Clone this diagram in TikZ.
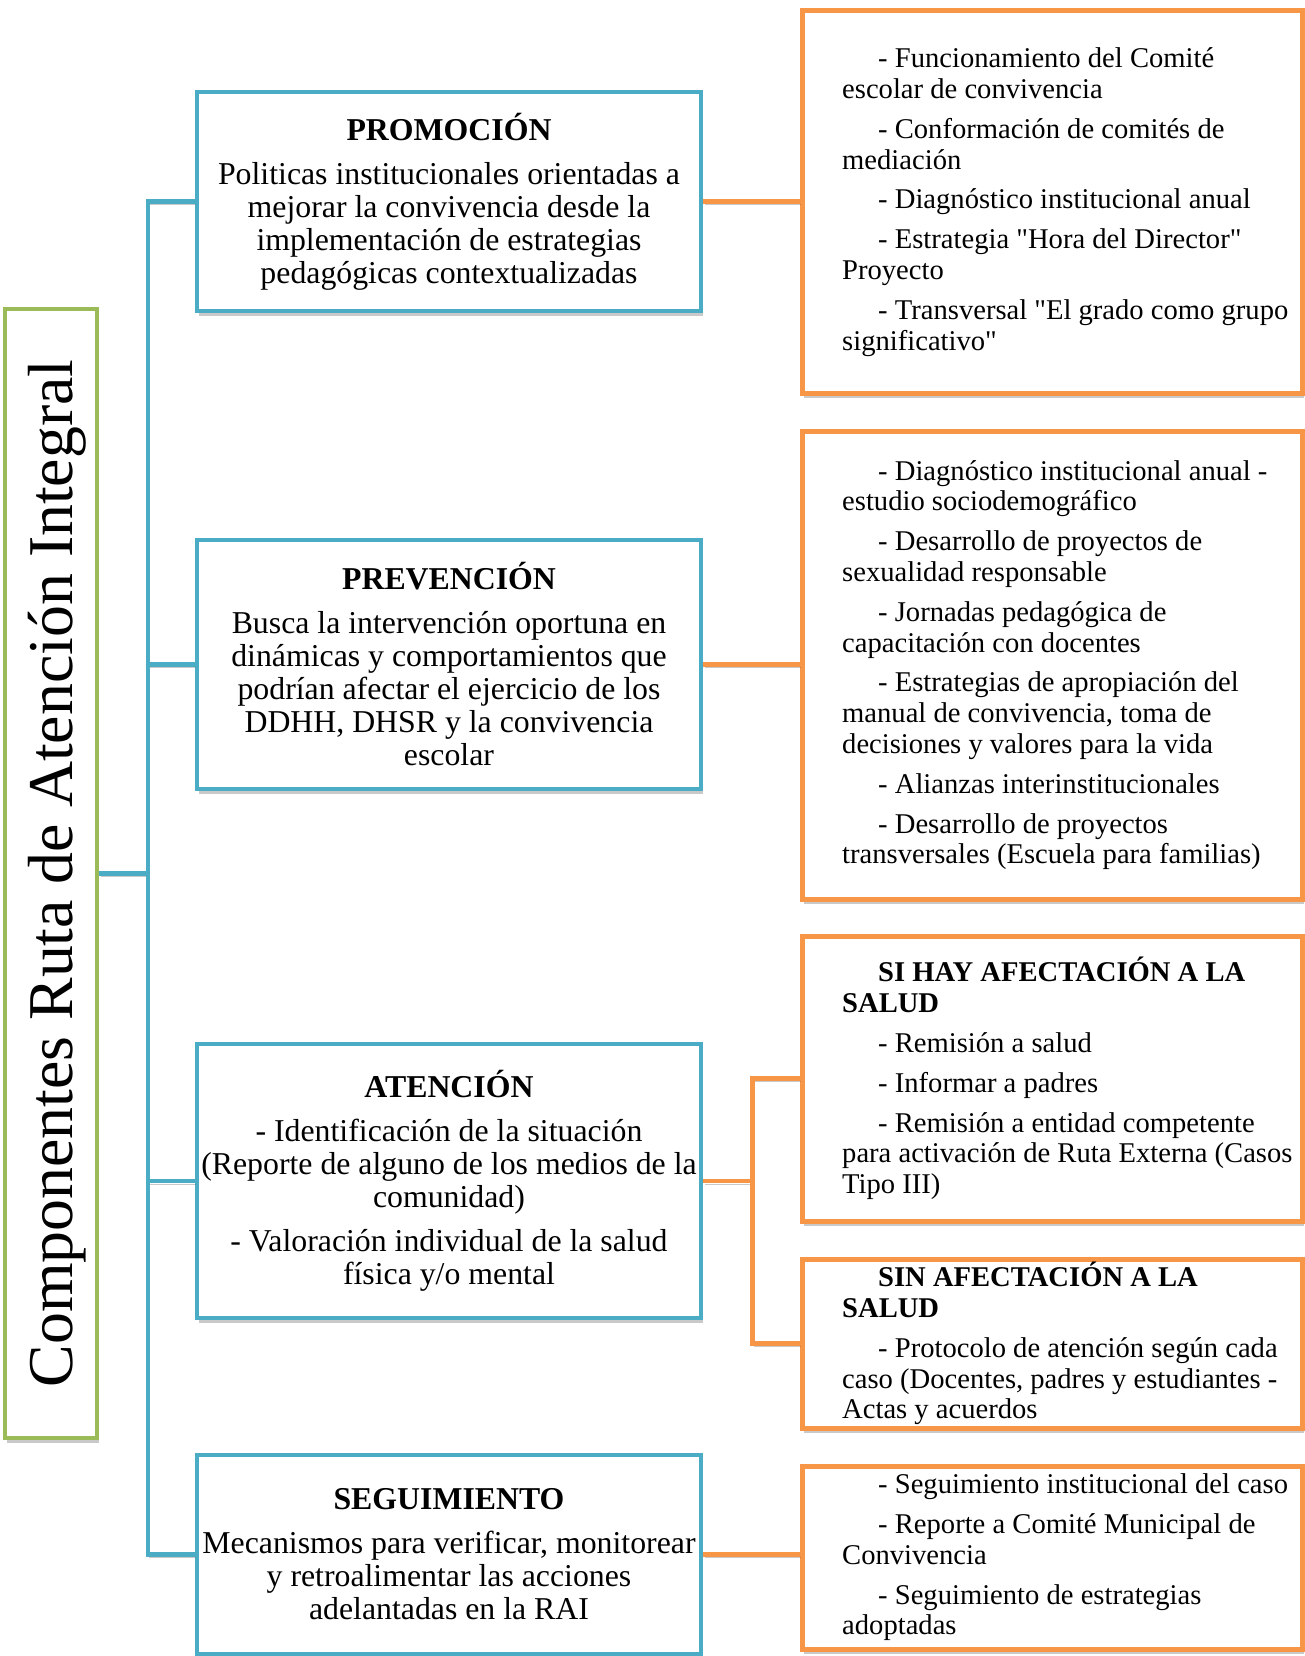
\documentclass[tikz,border=0pt]{standalone}
\usepackage{fontspec}
\setmainfont{Liberation Serif}[Ligatures=TeXOff]
\usetikzlibrary{shadows}
\setlength{\parindent}{0pt}
\definecolor{raiblue}{HTML}{4BACC6}
\definecolor{raiorange}{HTML}{F79646}
\definecolor{raigreen}{HTML}{9BBB59}
\newcommand{\ind}{\hspace*{36pt}}
\tikzset{
  boxshadow/.style={drop shadow={shadow xshift=2pt, shadow yshift=-5pt, fill=black!70, opacity=0.3}},
  bluebox/.style={draw=raiblue, line width=4.5pt, fill=white, boxshadow, minimum width=504pt,
                  inner xsep=0pt, align=center, font=\fontsize{31.8}{33}\selectfont},
  itembox/.style={draw=raiorange, line width=5pt, fill=white, boxshadow, minimum width=500pt},
  itemtext/.style={anchor=west, inner sep=0pt, align=left, font=\fontsize{28.6}{30.8}\selectfont},
  titlebox/.style={draw=raigreen, line width=4.5pt, fill=white, boxshadow, minimum width=92pt,
                   minimum height=1129pt, inner sep=0pt, font=\fontsize{63.8}{64}\selectfont},
  lineshadow/.style={preaction={draw=black!70, opacity=0.3, transform canvas={xshift=1.5pt, yshift=-3pt}}},
  blueline/.style={draw=raiblue, line width=4.5pt, lineshadow},
  orangeline/.style={draw=raiorange, line width=4.5pt, lineshadow}
}
\begin{document}
\begin{tikzpicture}[x=1pt, y=-1pt]
  \useasboundingbox (0,0) rectangle (1304,1656);
  \node [titlebox] (rai) at (51,873.5)
        {\rotatebox{90}{\raisebox{-6pt}[\height][\depth]{Componentes Ruta de Atención Integral}}};
  % blue column
  \node [bluebox, minimum height=219pt] (prom) at (449,201.5) {\textbf{PROMOCIÓN}\\[11pt]
        Politicas institucionales orientadas a\\ mejorar la convivencia desde la\\
        implementación de estrategias\\ pedagógicas contextualizadas};
  \node [bluebox, minimum height=249pt] (prev) at (449,664.5) {\textbf{PREVENCIÓN}\\[11pt]
        Busca la intervención oportuna en\\ dinámicas y comportamientos que\\
        podrían afectar el ejercicio de los\\ DDHH, DHSR y la convivencia\\ escolar};
  \node [bluebox, minimum height=274pt] (aten) at (449,1181) {\textbf{ATENCIÓN}\\[11pt]
        - Identificación de la situación\\ (Reporte de alguno de los medios de la\\ comunidad)\\[11pt]
        - Valoración individual de la salud\\ física y/o mental};
  \node [bluebox, minimum height=199pt] (segu) at (449,1554.5) {\textbf{SEGUIMIENTO}\\[11pt]
        Mecanismos para verificar, monitorear\\ y retroalimentar las acciones\\ adelantadas en la RAI};
  % orange column
  \node [itembox, minimum height=382pt] (rp1) at (1052,202)    {};       %promocion
  \node [itembox, minimum height=468pt] (rp2) at (1052,665)    {};       %prevencion
  \node [itembox, minimum height=285pt] (ra1) at (1052,1078.5) {};       %atencion, con afectacion
  \node [itembox, minimum height=169pt] (ra2) at (1052,1343.5) {};       %atencion, sin afectacion
  \node [itembox, minimum height=183pt] (rs1) at (1052,1557.5) {};       %seguimiento
  \node [itemtext] (rp1t) at (842,202) {%
        \ind- Funcionamiento del Comité\\ escolar de convivencia\\[9pt]
        \ind- Conformación de comités de\\ mediación\\[9pt]
        \ind- Diagnóstico institucional anual\\[9pt]
        \ind- Estrategia "Hora del Director"\\ Proyecto\\[9pt]
        \ind- Transversal "El grado como grupo\\ significativo"};
  \node [itemtext] (rp2t) at (842,665) {%
        \ind- Diagnóstico institucional anual -\\ estudio sociodemográfico\\[9pt]
        \ind- Desarrollo de proyectos de\\ sexualidad responsable\\[9pt]
        \ind- Jornadas pedagógica de\\ capacitación con docentes\\[9pt]
        \ind- Estrategias de apropiación del\\ manual de convivencia, toma de\\ decisiones y valores para la vida\\[9pt]
        \ind- Alianzas interinstitucionales\\[9pt]
        \ind- Desarrollo de proyectos\\ transversales (Escuela para familias)};
  \node [itemtext] (ra1t) at (842,1078.5) {%
        \ind\textbf{SI HAY AFECTACIÓN A LA}\\ \textbf{SALUD}\\[9pt]
        \ind- Remisión a salud\\[9pt]
        \ind- Informar a padres\\[9pt]
        \ind- Remisión a entidad competente\\ para activación de Ruta Externa (Casos\\ Tipo III)};
  \node [itemtext] (ra2t) at (842,1343.5) {%
        \ind\textbf{SIN AFECTACIÓN A LA}\\ \textbf{SALUD}\\[9pt]
        \ind- Protocolo de atención según cada\\ caso (Docentes, padres y estudiantes -\\ Actas y acuerdos};
  \node [itemtext] (rs1t) at (842,1557.5) {%
        \ind- Seguimiento institucional del caso\\[9pt]
        \ind- Reporte a Comité Municipal de\\ Convivencia\\[9pt]
        \ind- Seguimiento de estrategias\\ adoptadas};
  % connectors
  \coordinate (tr) at (148,873.5);                                  %trunk
  \draw [blueline] (rai.east) -- (tr);
  \foreach \b in {prom,prev,aten,segu}
    \draw [blueline] (tr) |- (\b.west);
  \foreach \a/\b in {prom/rp1,prev/rp2,segu/rs1}
    \draw [orangeline] (\a.east) -- (\a.east -| \b.west);
  \coordinate (ab) at ([xshift=49pt]aten.east);                     %fork
  \draw [orangeline] (aten.east) -- (ab);
  \draw [orangeline] (ab) |- (ra1.west);
  \draw [orangeline] (ab) |- (ra2.west);
\end{tikzpicture}
\end{document}
